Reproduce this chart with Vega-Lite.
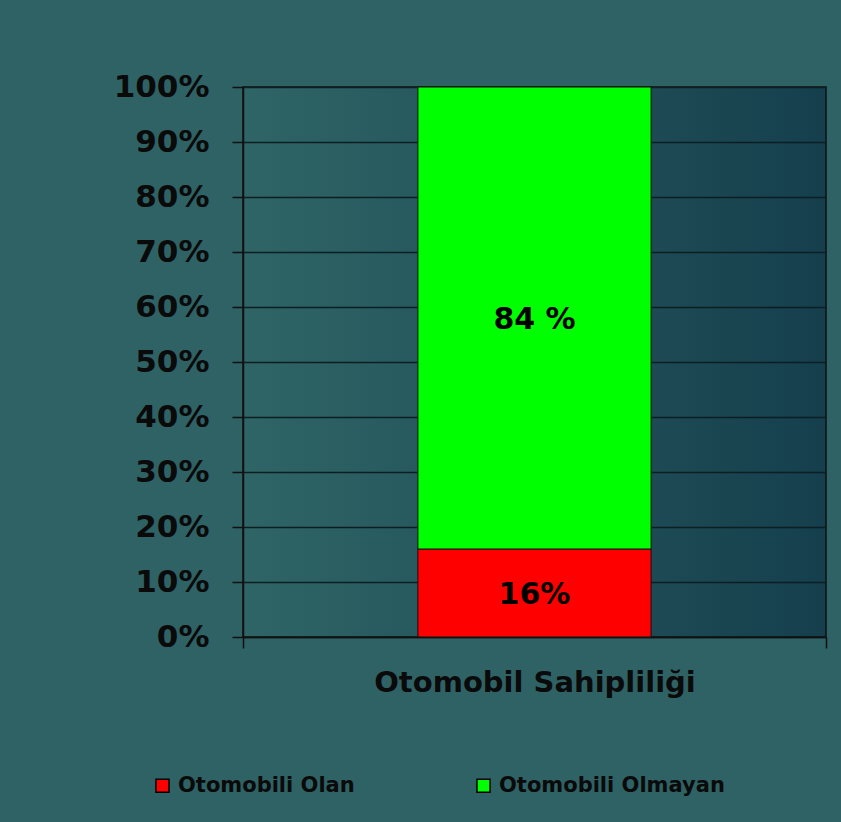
{
  "$schema": "https://vega.github.io/schema/vega-lite/v6.json",
  "width": 583,
  "height": 550,
  "autosize": {"type": "none"},
  "padding": {"left": 243, "top": 87, "right": 15, "bottom": 185},
  "background": "#2f6265",
  "data": {
    "values": [
      {"cat": "Otomobil Sahipliliği", "group": "Otomobili Olan", "value": 0.16, "label": "16%", "ord": 1},
      {"cat": "Otomobil Sahipliliği", "group": "Otomobili Olmayan", "value": 0.84, "label": "84 %", "ord": 2}
    ]
  },
  "encoding": {
    "x": {
      "field": "cat",
      "type": "nominal",
      "scale": {"paddingInner": 0, "paddingOuter": 0},
      "axis": {
        "title": null,
        "labelAngle": 0,
        "labelFont": "DejaVu Sans",
        "labelFontWeight": "bold",
        "labelFontSize": 29,
        "labelColor": "#0a0a0a",
        "labelLimit": 600,
        "tickBand": "extent",
        "tickSize": 11,
        "tickColor": "#111111",
        "tickWidth": 1.5,
        "domainColor": "#111111",
        "domainWidth": 1.5,
        "labelPadding": 20,
        "grid": false
      }
    },
    "y": {
      "field": "value",
      "type": "quantitative",
      "stack": "zero",
      "scale": {"domain": [0, 1], "nice": false},
      "axis": {
        "title": null,
        "values": [0, 0.1, 0.2, 0.3, 0.4, 0.5, 0.6, 0.7, 0.8, 0.9, 1],
        "format": ".0%",
        "labelFont": "DejaVu Sans",
        "labelFontWeight": "bold",
        "labelFontSize": 31,
        "labelColor": "#0a0a0a",
        "tickSize": 11,
        "tickColor": "#111111",
        "tickWidth": 1.5,
        "labelPadding": 23,
        "domainColor": "#111111",
        "domainWidth": 1.5,
        "gridColor": "#0d1f22",
        "gridWidth": 1.5,
        "gridOpacity": 1
      }
    },
    "order": {"field": "ord", "type": "quantitative"}
  },
  "layer": [
    {
      "mark": {"type": "bar", "width": {"band": 0.4}, "stroke": "#111111", "strokeWidth": 1},
      "encoding": {
        "color": {
          "field": "group",
          "type": "nominal",
          "scale": {"domain": ["Otomobili Olan", "Otomobili Olmayan"], "range": ["#ff0000", "#00ff00"]},
          "legend": {
            "title": null,
            "orient": "none",
            "legendX": -91,
            "legendY": 688,
            "direction": "horizontal",
            "symbolType": "square",
            "symbolSize": 170,
            "symbolStrokeColor": "#000000",
            "symbolStrokeWidth": 1.5,
            "symbolOpacity": 1,
            "labelFont": "DejaVu Sans",
            "labelFontWeight": "bold",
            "labelFontSize": 21,
            "labelColor": "#0a0a0a",
            "labelOffset": 5,
            "columnPadding": 118,
            "padding": 0,
            "labelLimit": 400
          }
        }
      }
    },
    {
      "mark": {"type": "text", "font": "DejaVu Sans", "fontWeight": "bold", "fontSize": 30, "color": "#000000", "dy": 2},
      "encoding": {
        "y": {"field": "value", "type": "quantitative", "stack": "zero", "bandPosition": 0.5},
        "detail": {"field": "group", "type": "nominal"},
        "text": {"field": "label", "type": "nominal"}
      }
    }
  ],
  "config": {
    "view": {
      "stroke": "#111111",
      "strokeWidth": 1.5,
      "fill": {
        "gradient": "linear",
        "x1": 0, "y1": 0, "x2": 1, "y2": 0,
        "stops": [
          {"offset": 0, "color": "#2f6566"},
          {"offset": 1, "color": "#153f4d"}
        ]
      }
    }
  }
}
